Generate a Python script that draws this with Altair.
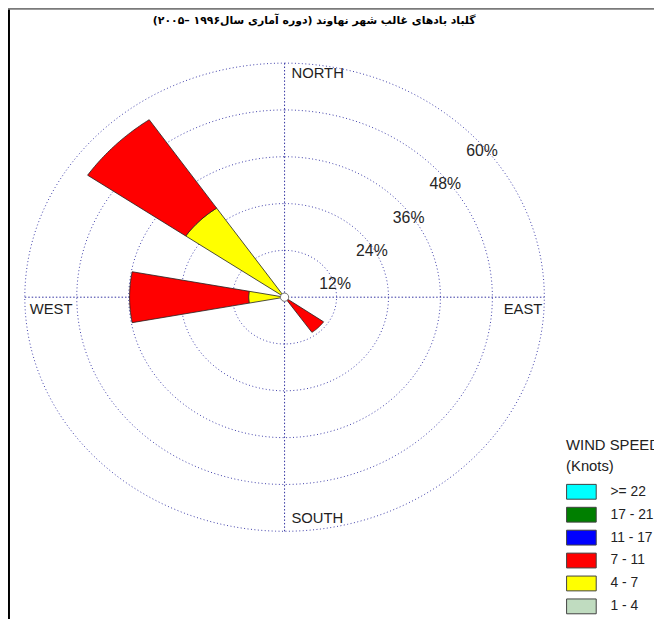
import numpy as np
import pandas as pd
import altair as alt

# ---------------- data ----------------
directions = ["NW", "W", "SE"]
direction_deg = [315, 270, 135]
freq_4_7 = [27.7, 8.3, 0.0]      # % frequency, 4-7 knots
freq_7_11 = [27.5, 27.5, 11.0]   # % frequency, 7-11 knots
half_width = [10.5, 10.5, 10.0]  # half sector width (deg)

speed_bins = [">= 22", "17 - 21", "11 - 17", "7 - 11", "4 - 7", "1 - 4"]
speed_colors = ["#00FFFF", "#007F00", "#0000FF", "#FF0000", "#FFFF00", "#C0DCC0"]

ring_values = [12, 24, 36, 48, 60]
ring_labels = ["12%", "24%", "36%", "48%", "60%"]
compass = ["NORTH", "SOUTH", "WEST", "EAST"]

title_text = "\u200fگلباد بادهای غالب شهر نهاوند (دوره آماری سال۱۹۹۶ –۲۰۰۵)\u200f"

RMAX = max(ring_values)

# ---------------- derived tables ----------------
rows = []
for d, deg, a, b, hw in zip(directions, direction_deg, freq_4_7, freq_7_11, half_width):
    segs = [("4 - 7", 0.0, a), ("7 - 11", a, a + b)]
    for lab, r0, r1 in segs:
        if r1 <= r0:
            continue
        angs = np.radians(np.linspace(deg - hw, deg + hw, 31))
        pts = []
        if r0 == 0:
            pts.append((0.0, 0.0))
        else:
            pts += [(r0 * np.sin(t), r0 * np.cos(t)) for t in angs]
        pts += [(r1 * np.sin(t), r1 * np.cos(t)) for t in angs[::-1]]
        pts.append(pts[0])
        for i, (x, y) in enumerate(pts):
            rows.append(dict(seg=f"{d} {lab}", speed=lab, x=x, y=y, o=i))
wedges = pd.DataFrame(rows)

ring_rows = []
for r in ring_values:
    for i, t in enumerate(np.radians(np.arange(0, 361, 2))):
        ring_rows.append(dict(ring=r, x=r * np.sin(t), y=r * np.cos(t), o=i))
rings = pd.DataFrame(ring_rows)

ring_lab = pd.DataFrame({
    "label": ring_labels,
    "x": [r * np.sin(np.radians(45)) for r in ring_values],
    "y": [r * np.cos(np.radians(45)) for r in ring_values],
})

cross = pd.DataFrame({"x": [0, -RMAX], "y": [-RMAX, 0], "x2": [0, RMAX], "y2": [RMAX, 0]})
center = pd.DataFrame({"x": [0], "y": [0]})
title_df = pd.DataFrame({"t": [title_text]})

xs = alt.Scale(domain=[-RMAX, RMAX], nice=False, zero=False)
ys = alt.Scale(domain=[-RMAX, RMAX], nice=False, zero=False)
X = lambda f="x": alt.X(f"{f}:Q", scale=xs, axis=None)
Y = lambda f="y": alt.Y(f"{f}:Q", scale=ys, axis=None)

FONT = "Liberation Sans"
GRID = "#3C3CA8"

ring_layer = alt.Chart(rings).mark_line(
    color=GRID, strokeWidth=1, strokeDash=[1, 2.5], opacity=1
).encode(x=X(), y=Y(), detail="ring:N", order="o:Q")

cross_layer = alt.Chart(cross).mark_rule(
    color="#3030A0", strokeWidth=1, strokeDash=[1.5, 2]
).encode(x=X(), y=Y(), x2="x2:Q", y2="y2:Q")

wedge_layer = alt.Chart(wedges).mark_line(
    filled=True, stroke="#202020", strokeWidth=0.8, opacity=1
).encode(
    x=X(), y=Y(),
    color=alt.Color(
        "speed:N",
        scale=alt.Scale(domain=speed_bins, range=speed_colors),
        legend=alt.Legend(
            title=["WIND SPEED", "(Knots)"],
            orient="none", legendX=548, legendY=380, direction="vertical",
            symbolType="M-1,-1H3V1H-1Z", symbolSize=225,
            symbolStrokeColor="#404040", symbolStrokeWidth=1, symbolOpacity=1,
            labelOffset=29, labelFont=FONT, labelFontSize=14, labelColor="#222222",
            titleFont=FONT, titleFontSize=15, titleFontWeight="normal",
            titleColor="#222222", titleLineHeight=21, titlePadding=10,
            rowPadding=3.2, padding=0, titleLimit=300,
        ),
    ),
    detail="seg:N", order="o:Q",
)

center_layer = alt.Chart(center).mark_point(
    filled=True, fill="white", stroke="#707070", strokeWidth=1, size=70, opacity=1
).encode(x=X(), y=Y())

ring_text = alt.Chart(ring_lab).mark_text(
    font=FONT, fontSize=16, color="#262626", align="center", baseline="middle", dx=14, dy=20
).encode(x=X(), y=Y(), text="label:N")

def compass_text(name, xv, yv, align, dx, dy):
    df = pd.DataFrame({"label": [name], "x": [xv], "y": [yv]})
    return alt.Chart(df).mark_text(
        font=FONT, fontSize=15, color="#1e1e1e", align=align, baseline="middle", dx=dx, dy=dy
    ).encode(x=X(), y=Y(), text="label:N")

north = compass_text(compass[0], 0, RMAX, "left", 7, 10)
south = compass_text(compass[1], 0, -RMAX, "left", 7, -13)
west = compass_text(compass[2], -RMAX, 0, "left", 5, 12)
east = compass_text(compass[3], RMAX, 0, "right", -2, 12)

title_layer = alt.Chart(title_df).mark_text(
    font="DejaVu Sans", fontSize=11, fontWeight="bold", color="#000000",
    align="center", baseline="middle",
).encode(x=alt.value(293), y=alt.value(-43), text="t:N")

frame_left = alt.Chart(center).mark_rule(color="#000000", strokeWidth=2).encode(
    x=alt.value(-16), y=alt.value(-55), y2=alt.value(700)
)
frame_top = alt.Chart(center).mark_rule(color="#7a7a7a", strokeWidth=2).encode(
    x=alt.value(-17), x2=alt.value(700), y=alt.value(-55)
)

chart = alt.layer(
    ring_layer, cross_layer, wedge_layer, center_layer, ring_text,
    north, south, west, east, title_layer, frame_left, frame_top,
).properties(
    width=526, height=474,
    autosize=alt.AutoSizeParams(type="none"),
    padding={"left": 17, "top": 52, "right": 111, "bottom": 85},
).configure_view(stroke=None)

chart.save("out.html", embed_options={"renderer": "svg", "actions": False})
